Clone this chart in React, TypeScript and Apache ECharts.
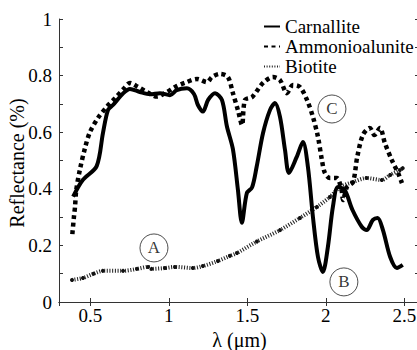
import React, { useEffect, useRef } from "react";
import * as echarts from "echarts";

const carnalliteX = [0.39, 0.45, 0.54, 0.58, 0.612, 0.644, 0.71, 0.752, 0.816, 0.88, 0.943, 1.007, 1.05, 1.115, 1.16, 1.185, 1.217, 1.25, 1.294, 1.338, 1.37, 1.408, 1.44, 1.465, 1.497, 1.53, 1.559, 1.6, 1.644, 1.676, 1.708, 1.74, 1.765, 1.814, 1.854, 1.886, 1.918, 1.95, 1.981, 2.013, 2.045, 2.077, 2.12, 2.17, 2.23, 2.26, 2.3, 2.33, 2.364, 2.41, 2.453, 2.49];
const carnalliteY = [0.372, 0.43, 0.48, 0.597, 0.678, 0.696, 0.738, 0.753, 0.742, 0.734, 0.738, 0.731, 0.749, 0.755, 0.735, 0.696, 0.673, 0.714, 0.738, 0.714, 0.62, 0.54, 0.396, 0.28, 0.385, 0.405, 0.477, 0.597, 0.678, 0.703, 0.654, 0.537, 0.456, 0.512, 0.565, 0.477, 0.3, 0.159, 0.106, 0.194, 0.336, 0.406, 0.396, 0.325, 0.265, 0.254, 0.29, 0.297, 0.254, 0.159, 0.12, 0.131];

const ammonioX = [0.385, 0.395, 0.402, 0.41, 0.434, 0.466, 0.497, 0.548, 0.605, 0.657, 0.71, 0.752, 0.803, 0.86, 0.924, 0.988, 1.04, 1.1, 1.18, 1.243, 1.275, 1.326, 1.376, 1.408, 1.44, 1.466, 1.485, 1.53, 1.6, 1.663, 1.708, 1.752, 1.79, 1.835, 1.88, 1.918, 1.95, 1.975, 1.994, 2.026, 2.07, 2.1, 2.11, 2.134, 2.173, 2.2, 2.236, 2.28, 2.31, 2.345, 2.376, 2.42, 2.46, 2.485];
const ammonioY = [0.24, 0.3, 0.336, 0.396, 0.47, 0.545, 0.6, 0.65, 0.69, 0.72, 0.752, 0.774, 0.76, 0.742, 0.726, 0.742, 0.76, 0.774, 0.788, 0.777, 0.795, 0.806, 0.795, 0.738, 0.678, 0.625, 0.714, 0.724, 0.774, 0.795, 0.784, 0.738, 0.767, 0.76, 0.714, 0.654, 0.583, 0.502, 0.456, 0.438, 0.438, 0.396, 0.36, 0.406, 0.424, 0.512, 0.59, 0.615, 0.59, 0.615, 0.562, 0.502, 0.456, 0.42];

const biotiteX = [0.383, 0.453, 0.52, 0.58, 0.708, 0.797, 0.867, 0.89, 0.975, 1.039, 1.153, 1.217, 1.313, 1.389, 1.434, 1.561, 1.708, 1.835, 1.943, 2.026, 2.09, 2.173, 2.26, 2.357, 2.41, 2.472, 2.49];
const biotiteY = [0.078, 0.085, 0.1, 0.11, 0.11, 0.117, 0.124, 0.117, 0.12, 0.124, 0.12, 0.127, 0.145, 0.163, 0.173, 0.214, 0.254, 0.297, 0.336, 0.371, 0.406, 0.424, 0.438, 0.431, 0.449, 0.466, 0.473];

const markLetters = ["A", "B", "C"];
const markX = [0.905, 2.115, 2.039];
const markY = [0.191, 0.071, 0.682];

const seriesNames = ["Carnallite", "Ammonioalunite", "Biotite"];
const yAxisTitle = "Reflectance (%)";
const FONT = "'Liberation Serif', 'Times New Roman', Times, serif";

const zip = (xs: number[], ys: number[]) => xs.map((x, i) => [x, ys[i]]);

export default function App() {
  const ref = useRef<HTMLDivElement>(null);
  useEffect(() => {
    if (!ref.current) return;
    const chart = echarts.init(ref.current, undefined, { renderer: "svg" });
    const axisLineColor = "#333";
    const xFormatter = (v: number) =>
      Math.abs(v * 2 - Math.round(v * 2)) < 1e-6 ? String(+v.toFixed(1)) : "";
    chart.setOption({
      animation: false,
      backgroundColor: "#fff",
      textStyle: { fontFamily: FONT },
      grid: {
        left: 59,
        top: 19,
        width: 361,
        height: 283,
        containLabel: false,
        outerBoundsMode: "none",
      },
      graphic: [
        {
          type: "text",
          x: 17,
          y: 163,
          rotation: Math.PI / 2,
          style: {
            text: yAxisTitle,
            fontFamily: FONT,
            fontSize: 20,
            fill: "#000",
            align: "center",
            verticalAlign: "middle",
            textAlign: "center",
            textVerticalAlign: "middle",
          },
        },
      ],
      legend: {
        orient: "vertical",
        left: 263,
        top: 17,
        padding: 0,
        itemGap: 1,
        itemWidth: 16,
        itemHeight: 14,
        itemStyle: { opacity: 0 },
        textStyle: { fontFamily: FONT, fontSize: 19, color: "#000" },
        data: seriesNames,
      },
      xAxis: [
        {
          type: "value",
          min: 0.3,
          max: 2.6,
          splitNumber: 5,
          name: "λ (μm)",
          nameLocation: "middle",
          nameGap: 25,
          nameTextStyle: { fontFamily: FONT, fontSize: 20, color: "#000" },
          axisLine: { show: true, lineStyle: { color: axisLineColor, width: 1 } },
          axisTick: { show: true, inside: true, length: 4, lineStyle: { color: axisLineColor } },
          axisLabel: {
            fontFamily: FONT,
            fontSize: 19,
            color: "#000",
            margin: 4,
            formatter: xFormatter,
            showMinLabel: false,
            showMaxLabel: false,
          },
          splitLine: { show: false },
        },
        {
          type: "value",
          position: "top",
          min: 0.3,
          max: 2.6,
          splitNumber: 5,
          axisLine: { show: true, lineStyle: { color: axisLineColor, width: 1 } },
          axisTick: { show: true, inside: true, length: 4, lineStyle: { color: axisLineColor } },
          axisLabel: { show: false },
          splitLine: { show: false },
        },
      ],
      yAxis: [
        {
          type: "value",
          min: 0,
          max: 1,
          interval: 0.2,
          axisLine: { show: true, lineStyle: { color: axisLineColor, width: 1 } },
          axisTick: { show: true, inside: true, length: 4, lineStyle: { color: axisLineColor } },
          minorTick: { show: true, splitNumber: 2, length: 4, lineStyle: { color: axisLineColor } },
          axisLabel: { fontFamily: FONT, fontSize: 19, color: "#000", margin: 7 },
          splitLine: { show: false },
        },
        {
          type: "value",
          position: "right",
          min: 0,
          max: 1,
          interval: 0.2,
          axisLine: { show: true, lineStyle: { color: axisLineColor, width: 1 } },
          axisTick: { show: true, inside: true, length: 5, lineStyle: { color: axisLineColor } },
          minorTick: { show: true, splitNumber: 2, length: 5, lineStyle: { color: axisLineColor } },
          axisLabel: { show: false },
          splitLine: { show: false },
        },
      ],
      series: [
        {
          name: seriesNames[0],
          type: "line",
          data: zip(carnalliteX, carnalliteY),
          smooth: 0.3,
          showSymbol: false,
          symbol: "none",
          color: "#000",
          lineStyle: { color: "#000", width: 4 },
          z: 3,
        },
        {
          name: seriesNames[1],
          type: "line",
          data: zip(ammonioX, ammonioY),
          smooth: 0.3,
          showSymbol: false,
          symbol: "none",
          color: "#000",
          lineStyle: { color: "#000", width: 4.5, type: [4, 3.5], cap: "butt" },
          z: 2,
        },
        {
          name: seriesNames[2],
          type: "line",
          data: zip(biotiteX, biotiteY),
          smooth: 0.3,
          symbol: "circle",
          symbolSize: 4,
          showSymbol: true,
          color: "#111",
          itemStyle: { color: "#111" },
          lineStyle: { color: "#222", width: 4, type: [1, 1.6], cap: "butt" },
          z: 1,
        },
        {
          name: "marks",
          type: "scatter",
          silent: true,
          data: markLetters.map((l, i) => ({ value: [markX[i], markY[i]], name: l })),
          symbol: "circle",
          symbolSize: 28,
          itemStyle: { color: "rgba(0,0,0,0)", borderColor: "#222", borderWidth: 1 },
          label: {
            show: true,
            position: "inside",
            formatter: (p: any) => p.name,
            fontFamily: FONT,
            fontSize: 17,
            color: "#000",
          },
          z: 5,
        },
      ],
    });
    return () => chart.dispose();
  }, []);
  return (
    <div
      ref={ref}
      style={{ position: "fixed", left: 0, top: 0, width: 417, height: 350, background: "#fff" }}
    />
  );
}
